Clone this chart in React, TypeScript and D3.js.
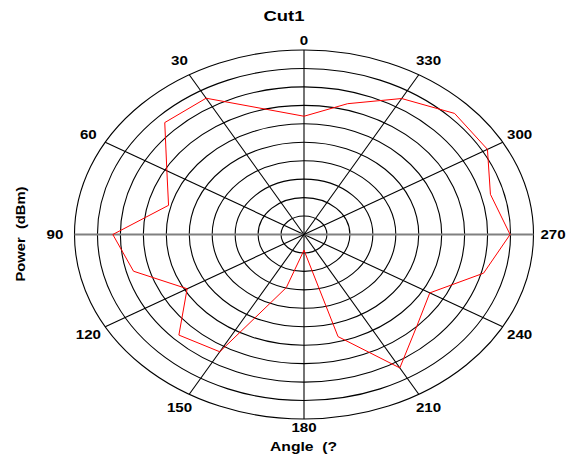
import React from "react";
import * as d3 from "d3";

// polar sample angles (deg, counter-clockwise from top) and measured power
const angles = [0, 15, 30, 45, 60, 75, 90, 105, 120, 135, 150, 165, 180, 195, 210, 225, 240, 255, 270, 285, 300, 315, 330, 345];
const power = [6.41, 7.07, 8.53, 8.58, 6.9, 6.11, 8.33, 7.69, 5.88, 7.71, 7.34, 2.98, 0.85, 5.73, 8.35, 6.97, 6.33, 8.1, 8.98, 8.41, 9.23, 9.28, 8.51, 7.34];

const rings = [1, 2, 3, 4, 5, 6, 7, 8, 9, 10];
const spokes = [0, 30, 60, 90, 120, 150, 180, 210, 240, 270, 300, 330];
const spokeLabels = ["0", "30", "60", "90", "120", "150", "180", "210", "240", "270", "300", "330"];

const W = 566;
const H = 463;
const cx = 304;
const cy = 234.5;
const rx = 229.5;
const ry = 184.5;
const font = "'Liberation Sans', Arial, sans-serif";

export default function App() {
  const r = d3.scaleLinear().domain([0, 10]).range([0, 1]);
  const rad = (deg: number) => (deg * Math.PI) / 180;
  const px = (deg: number, v: number) => cx - Math.sin(rad(deg)) * rx * r(v);
  const py = (deg: number, v: number) => cy - Math.cos(rad(deg)) * ry * r(v);

  const pts = angles.map((a, i) => [px(a, power[i]), py(a, power[i])] as [number, number]);
  const line = d3.line().curve(d3.curveLinearClosed);

  return (
    <svg width={W} height={H} style={{ position: "absolute", left: 0, top: 0, background: "#fff" }}>
      {rings.map((k) => (
        <ellipse key={k} cx={cx} cy={cy} rx={rx * r(k)} ry={ry * r(k)} fill="none" stroke="#000" strokeWidth={1.1} />
      ))}
      {spokes.map((a) => (
        <line
          key={a}
          x1={px(a, 0)}
          y1={py(a, 0)}
          x2={px(a, 10)}
          y2={py(a, 10)}
          stroke={a === 90 || a === 270 ? "#808080" : "#000"}
          strokeWidth={a === 90 || a === 270 ? 1.8 : 1.1}
        />
      ))}
      <path d={line(pts) || ""} fill="none" stroke="#ff0000" strokeWidth={1} />
      {spokes.map((a, i) => {
        const s = Math.sin(rad(a));
        const c = Math.cos(rad(a));
        const x = px(a, 10) - s * 19.5;
        const y = py(a, 10) - c * (Math.abs(s) < 1e-6 ? 9 : 15.8) + 4.3;
        return (
          <text
            key={a}
            x={x}
            y={y}
            textAnchor="middle"
            fontFamily={font}
            fontWeight="bold"
            fontSize={12}
            textLength={spokeLabels[i].length * 8.4}
            lengthAdjust="spacingAndGlyphs"
          >
            {spokeLabels[i]}
          </text>
        );
      })}
      <text x={284} y={20.7} textAnchor="middle" fontFamily={font} fontWeight="bold" fontSize={15}
        textLength={41} lengthAdjust="spacingAndGlyphs">
        Cut1
      </text>
      <text x={303.5} y={451} textAnchor="middle" fontFamily={font} fontWeight="bold" fontSize={12}
        textLength={67} lengthAdjust="spacingAndGlyphs" style={{ whiteSpace: "pre" }}>
        {"Angle  (?"}
      </text>
      <text transform="translate(24.5,234) rotate(-90)" textAnchor="middle" fontFamily={font} fontWeight="bold"
        fontSize={12} textLength={95} lengthAdjust="spacingAndGlyphs" style={{ whiteSpace: "pre" }}>
        {"Power  (dBm)"}
      </text>
    </svg>
  );
}
